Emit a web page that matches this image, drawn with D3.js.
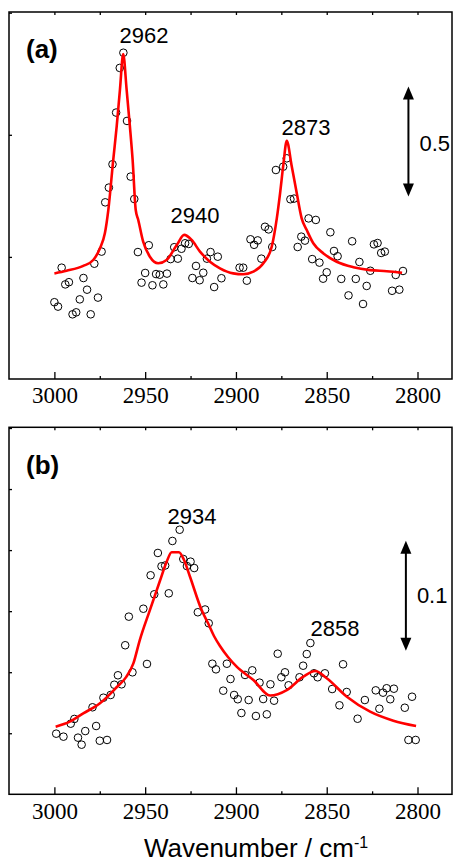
<!DOCTYPE html>
<html>
<head>
<meta charset="utf-8">
<script src="https://cdn.jsdelivr.net/npm/d3@7"></script>
<style>
  body { margin: 0; background: #fff; }
  svg { display: block; }
</style>
</head>
<body>
<svg id="chart" width="453" height="865"></svg>
<script>
// --- panel (a): measured points ---
const wavenumbersA = [3000,2998,2996,2994,2992,2990,2988,2986,2984,2982,2980,2978,2976,2974,2972,2970,2968,2966,2964,2962,2960,2958,2956,2954,2952,2950,2948,2946,2944,2942,2940,2938,2936,2934,2932,2930,2928,2926,2924,2922,2920,2918,2916,2914,2912,2910,2908,
  2898,2896,2894,2892,2890,2888,2886,2884,2882,2880,2878,
  2874,2872,2870,2868,2866,2864,2862,2860,2858,2856,2854,2852,2850,2848,2846,2844,2842,
  2838,2836,2834,2832,2830,2828,2826,2824,2822,2820,2818,
  2814,2812,2810,2808];
const absorbanceA = [0.349,0.329,0.506,0.430,0.440,0.294,0.303,0.362,0.459,0.406,
  0.294,0.524,0.370,0.579,0.803,0.870,0.976,1.211,1.414,1.483,
  1.173,0.920,0.818,0.577,0.438,0.482,0.608,0.426,0.477,0.474,
  0.430,0.479,0.545,0.599,0.547,0.592,0.617,0.614,0.459,0.514,
  0.449,0.483,0.547,0.577,0.418,0.556,0.458,
  0.506,0.506,0.447,0.635,0.610,0.630,0.547,0.692,0.680,0.600,0.950,
  0.965,1.003,0.817,0.820,0.600,0.647,0.629,0.730,0.545,0.723,0.529,0.456,0.485,0.667,0.582,0.558,0.455,
  0.380,0.626,0.455,0.532,0.341,0.423,0.492,0.612,0.618,0.573,0.579,
  0.401,0.473,0.406,0.491];

// --- panel (a): fitted curve ---
const fitWavenumbersA = [3000,2993.3,2984.1,2978.6,2974.9,2972.2,2970.3,2967.6,2965.7,2963.9,2962.1,2960.2,2958.4,2956.9,2955.2,2953.8,2951.1,2947.4,2942.8,2938.2,2932.6,2928.5,2924.4,2919.8,2914.3,2908.8,2901.5,2896.0,2890.4,2884.9,2880.3,2877.5,2875.7,2873.9,2872.0,2869.4,2866.5,2863.8,2861.0,2857.4,2851.8,2844.5,2835.3,2826.1,2816.9,2808.5];
const fitA = [0.480,0.492,0.514,0.541,0.594,0.662,0.768,0.995,1.147,1.314,1.477,1.314,1.147,0.995,0.768,0.723,0.624,0.556,0.526,0.541,0.609,0.655,0.632,0.579,0.533,0.503,0.480,0.476,0.488,0.526,0.601,0.730,0.844,0.973,1.083,0.973,0.844,0.730,0.677,0.617,0.571,0.533,0.508,0.495,0.490,0.483];

// --- panel (b): measured points ---
const wavenumbersB = [2999,2995,2991,2989,2987,2985,2983,2979,2977,2975,2973,2971,2969,2967,2965,2963,2961,2959,2957,2951,
  2949,2947,2945,2943,2941,2939,2937,2935,2931,2929,2927,2925,2923,2921,2917,2915,2913,2911,2907,2905,
  2903,2901,2899,2897,2895,2893,2891,2889,2887,2885,2883,2881,2879,2877,2875,2873,2871,2865,2863,2861,
  2859,2857,2855,2851,2847,2843,2841,2839,2833,2829,2823,2821,2819,2817,2815,2813,2807,2805,2803,2801];
const absorbanceB = [0.0551,0.0524,0.0642,0.0685,0.0515,0.0451,0.0575,0.0791,0.0621,0.0487,
  0.0878,0.0494,0.0903,0.0996,0.1082,0.1000,0.1355,0.1615,0.1109,0.1687,
  0.1185,0.1991,0.1818,0.2194,0.2073,0.2080,0.1827,0.2303,0.2405,0.2139,
  0.2075,0.2115,0.2057,0.1655,0.1680,0.1555,0.1187,0.1136,0.0942,0.1187,
  0.1048,0.0903,0.0864,0.0739,0.1085,0.0857,0.1127,0.0712,0.1015,0.0866,
  0.0727,0.1000,0.0851,0.1278,0.1064,0.1109,0.0991,0.1064,0.1169,0.1275,
  0.1375,0.1100,0.1064,0.1100,0.0957,0.0809,0.1182,0.0930,0.0687,0.0857,
  0.0945,0.0778,0.0924,0.0964,0.0864,0.0960,0.0787,0.0494,0.0887,0.0494];

// --- panel (b): fitted curve ---
const fitWavenumbersB = [2999.3,2991.5,2984.1,2974.9,2965.7,2960.5,2956.5,2953.0,2947.4,2941.9,2938.2,2935.4,2931.4,2928.6,2925.3,2918.9,2915.4,2912.1,2908.8,2904.4,2899.6,2890.4,2881.2,2872.0,2862.9,2856.4,2850.0,2838.9,2826.1,2813.3,2800.8];
const fitB = [0.0615,0.0660,0.0736,0.0827,0.0973,0.1065,0.1190,0.1400,0.1675,0.1939,0.2112,0.2200,0.2200,0.2130,0.1978,0.1675,0.1557,0.1439,0.1348,0.1248,0.1160,0.1039,0.0898,0.0948,0.1069,0.1121,0.1055,0.0887,0.0751,0.0669,0.0621];

// ticks, labels, scale bars
const xMajorTicks = [3000, 2950, 2900, 2850, 2800];
const xMinorTicks = [2975, 2925, 2875, 2825];
const xTopTicks = [3000, 2975, 2950, 2925, 2900, 2875, 2850, 2825, 2800];
const yTicksA = [0.555, 1.11, 1.665];
const yTicksB = [0.0555, 0.111, 0.1665, 0.222, 0.2775, 0.333];
const peakLabelsA = ['2962', '2940', '2873'];
const peakLabelsB = ['2934', '2858'];
const scaleBarA = 0.5;
const scaleBarB = 0.1;

const svg = d3.select('#chart');
const sans = "'Liberation Sans', Arial, sans-serif";
const serif = "'Liberation Serif', 'Times New Roman', serif";

const x = d3.scaleLinear().domain([3025, 2781]).range([9, 452]);

function drawPanel(cfg) {
  const { top, bottom, yMax, yTicks, pts, fit, tag, labels, labelPos, bar, barStart, barX, barLabelY } = cfg;
  const y = d3.scaleLinear().domain([0, yMax]).range([bottom, top]);
  const g = svg.append('g');

  // axes (ticks point inward)
  const styleAxis = sel => {
    sel.attr('font-family', null);
    sel.select('.domain').remove();
    sel.selectAll('line').attr('stroke', '#000').attr('stroke-width', 1.3);
  };
  g.append('g').attr('transform', `translate(0,${bottom})`)
    .call(d3.axisBottom(x).tickValues(xMajorTicks).tickSize(-7).tickPadding(8).tickFormat(d3.format('d')))
    .call(styleAxis)
    .selectAll('text')
    .style('font-family', serif).style('font-size', '23px').attr('fill', '#000');
  g.append('g').attr('transform', `translate(0,${bottom})`)
    .call(d3.axisBottom(x).tickValues(xMinorTicks).tickSize(-3).tickFormat(''))
    .call(styleAxis);
  g.append('g').attr('transform', `translate(0,${top})`)
    .call(d3.axisTop(x).tickValues(xTopTicks).tickSize(-3).tickFormat(''))
    .call(styleAxis);
  g.append('g').attr('transform', `translate(${x(3025)},0)`)
    .call(d3.axisLeft(y).tickValues(yTicks).tickSize(-3).tickFormat(''))
    .call(styleAxis);

  g.append('rect')
    .attr('x', x(3025)).attr('y', top)
    .attr('width', x(2781) - x(3025)).attr('height', bottom - top)
    .attr('fill', 'none').attr('stroke', '#000').attr('stroke-width', 1.5);

  // data points
  g.append('g').selectAll('circle')
    .data(pts)
    .join('circle')
    .attr('cx', d => x(d[0]))
    .attr('cy', d => y(d[1]))
    .attr('r', 3.8)
    .attr('fill', 'none')
    .attr('stroke', '#000')
    .attr('stroke-width', 1);

  // fitted curve
  const line = d3.line().x(d => x(d[0])).y(d => y(d[1])).curve(d3.curveMonotoneX);
  g.append('path')
    .datum(fit)
    .attr('d', line)
    .attr('fill', 'none')
    .attr('stroke', '#ff0000')
    .attr('stroke-width', 2.6);

  // panel tag
  g.append('text')
    .attr('x', 26).attr('y', tag.y)
    .attr('font-family', sans).attr('font-size', 26).attr('font-weight', 'bold')
    .text(tag.text);

  // peak labels
  g.selectAll('.peak')
    .data(labels)
    .join('text')
    .attr('class', 'peak')
    .attr('x', (d, i) => labelPos[i][0])
    .attr('y', (d, i) => labelPos[i][1])
    .attr('text-anchor', 'middle')
    .attr('font-family', sans).attr('font-size', 22)
    .text(d => d);

  // scale bar (double arrow)
  const y0 = y(barStart), y1 = y(barStart + bar);
  const bx = x(barX);
  g.append('line')
    .attr('x1', bx).attr('x2', bx).attr('y1', y1 + 10).attr('y2', y0 - 10)
    .attr('stroke', '#000').attr('stroke-width', 2);
  g.append('path')
    .attr('d', `M${bx},${y1} L${bx - 5.5},${y1 + 13} L${bx + 5.5},${y1 + 13} Z`)
    .attr('fill', '#000');
  g.append('path')
    .attr('d', `M${bx},${y0} L${bx - 5.5},${y0 - 13} L${bx + 5.5},${y0 - 13} Z`)
    .attr('fill', '#000');
  g.append('text')
    .attr('x', bx + 11).attr('y', barLabelY)
    .attr('font-family', sans).attr('font-size', 22)
    .text(String(bar));
}

drawPanel({
  top: 12, bottom: 379, yMax: 367 / 220, yTicks: yTicksA,
  pts: wavenumbersA.map((w, i) => [w, absorbanceA[i]]),
  fit: fitWavenumbersA.map((w, i) => [w, fitA[i]]),
  tag: { text: '(a)', y: 58 },
  labels: peakLabelsA,
  labelPos: [[144, 43], [195, 223], [306, 135]],
  bar: scaleBarA, barStart: 0.829, barX: 2805, barLabelY: 151
});

drawPanel({
  top: 427.3, bottom: 794.3, yMax: 367 / 1100, yTicks: yTicksB,
  pts: wavenumbersB.map((w, i) => [w, absorbanceB[i]]),
  fit: fitWavenumbersB.map((w, i) => [w, fitB[i]]),
  tag: { text: '(b)', y: 474 },
  labels: peakLabelsB,
  labelPos: [[192, 524], [335, 636]],
  bar: scaleBarB, barStart: 0.1305, barX: 2806.4, barLabelY: 603
});

// x-axis title
const title = svg.append('text')
  .attr('x', 256).attr('y', 857)
  .attr('text-anchor', 'middle')
  .attr('font-family', sans).attr('font-size', 26);
title.append('tspan').text('Wavenumber / cm');
title.append('tspan').attr('dy', -9).attr('font-size', 16).text('-1');
</script>
</body>
</html>
